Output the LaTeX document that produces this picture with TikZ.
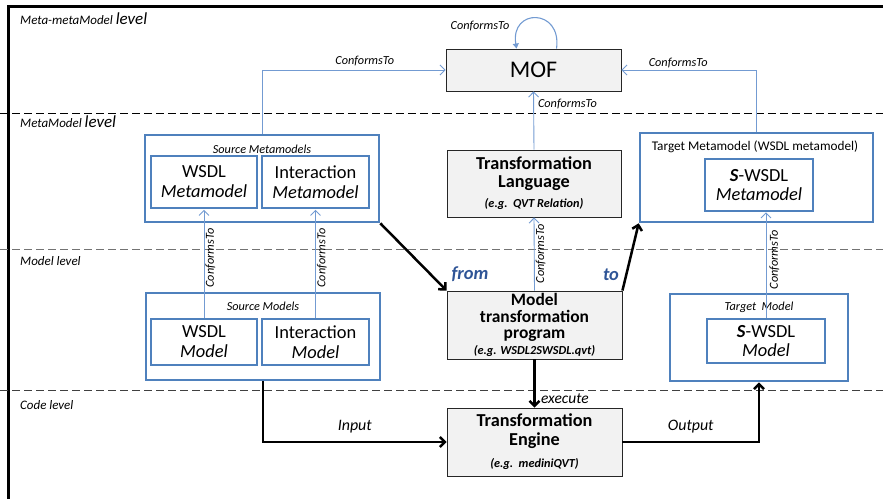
\documentclass[tikz,border=0pt]{standalone}
\usepackage{fontspec}
\setmainfont{Carlito}
\usetikzlibrary{arrows.meta,calc}
\definecolor{boxblue}{RGB}{79,129,189}
\definecolor{lineblue}{RGB}{115,155,210}
\definecolor{gfill}{RGB}{242,242,242}
\definecolor{fromblue}{RGB}{46,84,150}
\newcommand\myegfont{\fontsize{12.3}{14}\selectfont\bfseries\itshape}
\begin{document}
\begin{tikzpicture}[x=1bp,y=-1bp,
  gbox/.style={draw=black!85, line width=0.9bp, fill=gfill, align=center, inner sep=0pt},
  obox/.style={draw=boxblue, line width=2.6bp, inner sep=0pt},
  ibox/.style={draw=boxblue, line width=2.6bp, fill=white, align=center, inner sep=0pt, font=\fontsize{18.5}{20}\selectfont},
  conf/.style={draw=lineblue, line width=0.9bp, -{Straight Barb[length=5bp,width=10bp]}},
  thk/.style={draw=black, line width=2.5bp, -{Straight Barb[length=5bp,width=10bp]}},
  slab/.style={font=\fontsize{12.3}{14}\selectfont\itshape, inner sep=1pt},
  lvl/.style={font=\fontsize{13}{15}\selectfont\itshape, anchor=base west, inner sep=0pt},
  dlab/.style={font=\fontsize{16}{18}\selectfont\itshape}
]
\path[use as bounding box] (0,0) rectangle (883,499);
% frame
\draw[line width=3bp] (8,499) -- (8,7) -- (883,7);
% level separators
\draw[dash pattern=on 8bp off 4bp, line width=0.9bp] (0,113) -- (883,113);
\draw[dash pattern=on 8bp off 4bp, line width=0.9bp, black!55] (0,249) -- (883,249);
\draw[dash pattern=on 8bp off 4bp, line width=0.9bp, black!75] (0,390) -- (883,390);
% level labels
\node[lvl] (l1) at (20,25) {Meta-metaModel {\fontsize{17}{19}\selectfont level}};
\node[lvl] (l2) at (20,128) {MetaModel {\fontsize{17}{19}\selectfont level}};
\node[lvl] (l3) at (20,266) {Model level};
\node[lvl] (l4) at (20,409) {Code level};

% gray boxes
\node[gbox, minimum width=175bp, minimum height=42bp, font=\fontsize{24}{26}\selectfont] (mof) at (533.5,70) {MOF};
\node[gbox, minimum width=174bp, minimum height=67bp, font=\fontsize{18.3}{17.5}\selectfont\bfseries] (tl) at (534,183.5) {Transformation\\Language\\[3bp]\myegfont (e.g.\ \ QVT Relation)};
\node[gbox, minimum width=175bp, minimum height=68bp, font=\fontsize{17.5}{16.5}\selectfont\bfseries] (mtp) at (534.5,325) {Model\\transformation\\program\\[-1bp]\myegfont (e.g. WSDL2SWSDL.qvt)};
\node[gbox, minimum width=175bp, minimum height=68bp, font=\fontsize{18.3}{19}\selectfont\bfseries] (te) at (534.5,442) {Transformation\\Engine\\[3bp]\myegfont (e.g.\ \ mediniQVT)};

% source metamodels
\node[obox, minimum width=234bp, minimum height=87bp] (smm) at (262,178.5) {};
\node[slab] (smml) at (262,149) {Source Metamodels};
\node[ibox, minimum width=106bp, minimum height=52bp] (wmm) at (204,182) {WSDL\\\textit{Metamodel}};
\node[ibox, minimum width=107bp, minimum height=52bp] (imm) at (315.5,182) {Interaction\\\textit{Metamodel}};

% target metamodel
\node[obox, minimum width=233bp, minimum height=89bp] (tmm) at (756.5,177.5) {};
\node[font=\fontsize{13.3}{15}\selectfont, inner sep=1pt] (tmml) at (755,147) {Target Metamodel (WSDL metamodel)};
\node[ibox, minimum width=108bp, minimum height=52bp] (swmm) at (759,185) {\textbf{\textit{S}}-WSDL\\\textit{Metamodel}};

% source models
\node[obox, minimum width=234bp, minimum height=87bp] (sm) at (263,336.5) {};
\node[slab] (sml) at (263,306) {Source Models};
\node[ibox, minimum width=106bp, minimum height=46bp] (wm) at (204,342) {WSDL\\\textit{Model}};
\node[ibox, minimum width=107bp, minimum height=46bp] (im) at (315.5,342) {Interaction\\\textit{Model}};

% target model
\node[obox, minimum width=178bp, minimum height=87bp] (tm) at (759,337.5) {};
\node[slab] (tml) at (759,307) {Target\ \ Model};
\node[ibox, minimum width=118bp, minimum height=44bp] (swm) at (766,341) {\textbf{\textit{S}}-WSDL\\\textit{Model}};

% ConformsTo connectors
\draw[conf] (smm.north) |- (mof.west) node[slab, pos=0.78, above=3bp] {ConformsTo};
\draw[conf] (tmm.north) |- (mof.east) node[slab, pos=0.79, above=1bp] {ConformsTo};
\draw[conf] (tl.north) -- (mof.south) node[slab, pos=0.78, anchor=west, xshift=3bp] {ConformsTo};
\coordinate (loopa) at ($(mof.north west)+(111,0)$);
\coordinate (loopb) at ($(mof.north west)+(71,0)$);
\draw[draw=lineblue, line width=1.1bp, -{Triangle[length=5bp,width=6bp]}] (loopa) .. controls (562,8) and (510,8) .. (loopb);
\node[slab] (loopl) at (480,26) {ConformsTo};

\draw[conf, shorten >=0.5bp] (wm.north) -- (wmm.south) node[slab, pos=0.55, rotate=90, anchor=north] {ConformsTo};
\draw[conf, shorten >=0.5bp] (im.north) -- (imm.south) node[slab, pos=0.55, rotate=90, anchor=north] {ConformsTo};
\draw[conf] (mtp.north) -- (tl.south) node[slab, pos=0.5, rotate=90, anchor=north] {ConformsTo};
\draw[conf] (swm.north) -- (swm.north |- swmm.south) node[slab, pos=0.55, rotate=90, anchor=north, yshift=-2bp] {ConformsTo};

% thick connectors
\draw[thk] (smm.south east) -- (mtp.north west);
\node[font=\fontsize{18.5}{20}\selectfont\bfseries\itshape, text=fromblue] (fromlab) at (470,274) {from};
\draw[thk] (mtp.north east) -- (tmm.south west);
\node[font=\fontsize{18.5}{20}\selectfont\bfseries\itshape, text=fromblue] (tolab) at (611,275) {to};
\draw[thk] (mtp.south) -- (te.north) node[pos=0.82, anchor=west, xshift=2bp, font=\fontsize{15.5}{17}\selectfont\itshape] {execute};
\draw[thk] (sm.south) |- (te.west) node[dlab, pos=0.75, above=4bp] {Input};
\draw[thk] (te.east) -| (tm.south) node[dlab, pos=0.25, above=4bp] {Output};
\end{tikzpicture}
\end{document}
